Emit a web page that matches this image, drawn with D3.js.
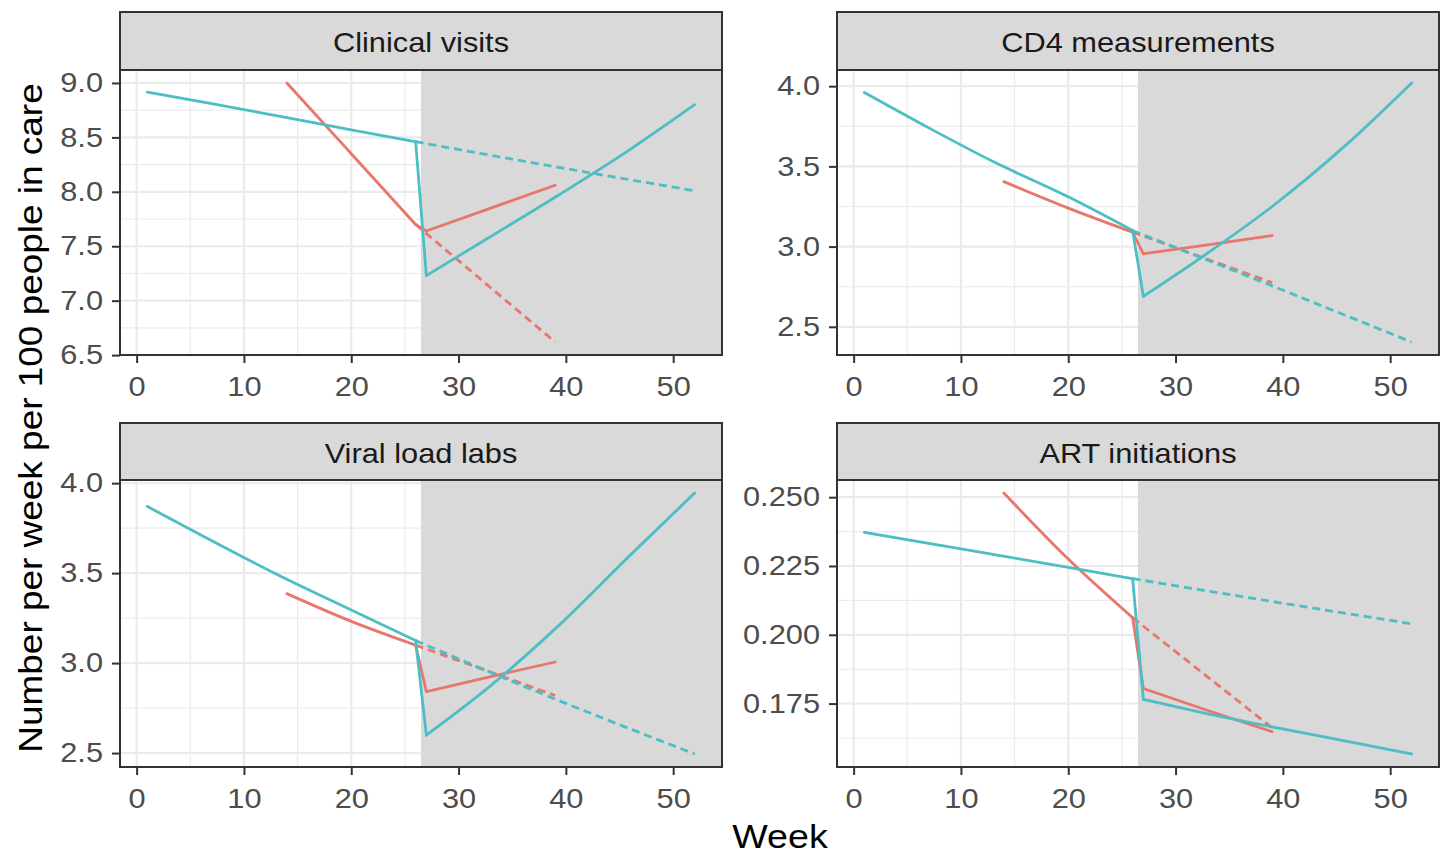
<!DOCTYPE html>
<html>
<head>
<meta charset="utf-8">
<script src="https://cdn.jsdelivr.net/npm/d3@7"></script>
<style>
  body { margin: 0; background: #fff; }
  svg { display: block; font-family: "Liberation Sans", Arial, sans-serif; }
</style>
</head>
<body>
<svg id="chart" width="1440" height="854"></svg>
<script>
// facet titles, in reading order
const panelTitles = ["Clinical visits", "CD4 measurements", "Viral load labs", "ART initiations"];

// teal group: weeks 1-52, solid = fitted, dashed = counterfactual
const tealWeeks = [1, 7, 13, 20, 26, 27, 33, 39, 46, 52];
const tealSolid = [
    [8.915, 8.81, 8.70, 8.57, 8.46, 7.23, 7.59, 7.95, 8.39, 8.80],
    [3.96, 3.74, 3.53, 3.31, 3.10, 2.69, 2.96, 3.25, 3.64, 4.02],
    [3.87, 3.68, 3.495, 3.295, 3.125, 2.60, 2.875, 3.19, 3.60, 3.945],
    [0.2372, 0.2332, 0.2292, 0.2245, 0.2204, 0.1765, 0.1713, 0.1665, 0.1613, 0.1567]
];
const tealDashWeeks = [26, 39, 52];
const tealDashed = [
    [8.46, 8.23, 8.01],
    [3.10, 2.755, 2.405],
    [3.125, 2.80, 2.495],
    [0.2204, 0.2121, 0.204]
];

// red group: weeks 14-39
const redWeeks = [14, 20, 26, 27, 33, 39];
const redSolid = [
    [9.00, 8.35, 7.70, 7.64, 7.85, 8.06],
    [3.405, 3.24, 3.09, 2.955, 3.01, 3.069],
    [3.386, 3.232, 3.10, 2.842, 2.925, 3.006],
    [0.2515, 0.2275, 0.2062, 0.1805, 0.1725, 0.1648]
];
const redDashWeeks = [26, 39];
const redDashed = [
    [7.70, 6.62],
    [3.09, 2.775],
    [3.10, 2.82],
    [0.2062, 0.1662]
];

// axis breaks
const xTicks = [0, 10, 20, 30, 40, 50];
const yTicks = [
    [6.5, 7.0, 7.5, 8.0, 8.5, 9.0],
    [2.5, 3.0, 3.5, 4.0],
    [2.5, 3.0, 3.5, 4.0],
    [0.175, 0.200, 0.225, 0.250]
];
const yTickFormats = [".1f", ".1f", ".1f", ".3f"];
const interventionStart = 26.5;

// layout
const colX = [[120, 722], [837, 1439]];
const rowY = [[12, 70, 355], [423, 480, 767]]; // strip top, panel top, panel bottom
const SX = 1.14; // horizontal text widening to match the original font
const red = "#E8766B", teal = "#4CBEC4";

const svg = d3.select("#chart");

function minorBreaks(major, domain) {
    const step = major[1] - major[0];
    const mids = [];
    for (let k = -1; k < major.length; k++) mids.push(major[0] + step * (k + 0.5));
    return mids.filter(v => v >= domain[0] && v <= domain[1]);
}

panelTitles.forEach((title, i) => {
    const [x0, x1] = colX[i % 2];
    const [s0, y0, y1] = rowY[Math.floor(i / 2)];
    const g = svg.append("g");

    const xr = d3.extent([...tealWeeks, ...redWeeks]);
    const xp = (xr[1] - xr[0]) * 0.05;
    const x = d3.scaleLinear().domain([xr[0] - xp, xr[1] + xp]).range([x0, x1]);

    const yr = d3.extent([...tealSolid[i], ...tealDashed[i], ...redSolid[i], ...redDashed[i]]);
    const yp = (yr[1] - yr[0]) * 0.05;
    const y = d3.scaleLinear().domain([yr[0] - yp, yr[1] + yp]).range([y1, y0]);

    g.append("rect").attr("x", x0).attr("y", y0)
        .attr("width", x1 - x0).attr("height", y1 - y0).attr("fill", "#fff");

    // grid
    minorBreaks(xTicks, x.domain()).forEach(v => {
        g.append("line").attr("x1", x(v)).attr("x2", x(v)).attr("y1", y0).attr("y2", y1)
            .attr("stroke", "#EBEBEB").attr("stroke-width", 1.1);
    });
    minorBreaks(yTicks[i], y.domain()).forEach(v => {
        g.append("line").attr("x1", x0).attr("x2", x1).attr("y1", y(v)).attr("y2", y(v))
            .attr("stroke", "#EBEBEB").attr("stroke-width", 1.1);
    });
    xTicks.forEach(v => {
        g.append("line").attr("x1", x(v)).attr("x2", x(v)).attr("y1", y0).attr("y2", y1)
            .attr("stroke", "#EBEBEB").attr("stroke-width", 2.2);
    });
    yTicks[i].forEach(v => {
        g.append("line").attr("x1", x0).attr("x2", x1).attr("y1", y(v)).attr("y2", y(v))
            .attr("stroke", "#EBEBEB").attr("stroke-width", 2.2);
    });

    // post-intervention shading
    g.append("rect")
        .attr("x", x(interventionStart)).attr("y", y0)
        .attr("width", x1 - x(interventionStart)).attr("height", y1 - y0)
        .attr("fill", "#D9D9D9");

    const smooth = d3.line().x(d => x(d[0])).y(d => y(d[1])).curve(d3.curveMonotoneX);
    const straight = d3.line().x(d => x(d[0])).y(d => y(d[1]));

    // solid series: smooth pre and post pieces, straight drop between them
    function drawSolid(weeks, vals, color) {
        const pts = weeks.map((w, k) => [w, vals[k]]);
        const pre = pts.filter(p => p[0] < interventionStart);
        const post = pts.filter(p => p[0] > interventionStart);
        [pre, post].forEach(seg => {
            g.append("path").datum(seg)
                .attr("fill", "none").attr("stroke", color).attr("stroke-width", 2.8)
                .attr("stroke-linecap", "round").attr("d", smooth);
        });
        g.append("path").datum([pre[pre.length - 1], post[0]])
            .attr("fill", "none").attr("stroke", color).attr("stroke-width", 2.8)
            .attr("stroke-linecap", "round").attr("d", straight);
    }
    function drawDashed(weeks, vals, color) {
        g.append("path").datum(weeks.map((w, k) => [w, vals[k]]))
            .attr("fill", "none").attr("stroke", color).attr("stroke-width", 2.8)
            .attr("stroke-dasharray", "8,5").attr("d", smooth);
    }

    drawSolid(redWeeks, redSolid[i], red);
    drawDashed(redDashWeeks, redDashed[i], red);
    drawSolid(tealWeeks, tealSolid[i], teal);
    drawDashed(tealDashWeeks, tealDashed[i], teal);

    // panel border
    g.append("rect").attr("x", x0).attr("y", y0)
        .attr("width", x1 - x0).attr("height", y1 - y0)
        .attr("fill", "none").attr("stroke", "#333").attr("stroke-width", 2);

    // strip
    g.append("rect").attr("x", x0).attr("y", s0)
        .attr("width", x1 - x0).attr("height", y0 - s0)
        .attr("fill", "#D9D9D9").attr("stroke", "#333").attr("stroke-width", 2);
    g.append("text")
        .attr("transform", `translate(${(x0 + x1) / 2},${s0 + 40}) scale(${SX},1)`)
        .attr("text-anchor", "middle")
        .attr("font-size", 27)
        .attr("fill", "#1A1A1A")
        .text(title);

    // y axis
    const ya = g.append("g")
        .attr("transform", `translate(${x0},0)`)
        .call(d3.axisLeft(y).tickValues(yTicks[i]).tickFormat(d3.format(yTickFormats[i])).tickSize(8));
    ya.select(".domain").remove();
    ya.selectAll(".tick line").attr("stroke", "#333").attr("stroke-width", 2);
    ya.selectAll(".tick text")
        .attr("x", -17 / SX)
        .attr("transform", `scale(${SX},1)`)
        .attr("font-size", 27)
        .attr("font-family", null)
        .attr("fill", "#4D4D4D");

    // x axis
    const xa = g.append("g")
        .attr("transform", `translate(0,${y1})`)
        .call(d3.axisBottom(x).tickValues(xTicks).tickSize(8));
    xa.select(".domain").remove();
    xa.selectAll(".tick line").attr("stroke", "#333").attr("stroke-width", 2);
    xa.selectAll(".tick text")
        .attr("y", 41)
        .attr("dy", 0)
        .attr("transform", `scale(${SX},1)`)
        .attr("font-size", 27)
        .attr("font-family", null)
        .attr("fill", "#4D4D4D");
});

// axis titles
svg.append("text")
    .attr("transform", `translate(780,848) scale(${SX},1)`)
    .attr("text-anchor", "middle")
    .attr("font-size", 33)
    .attr("fill", "#000")
    .text("Week");

svg.append("text")
    .attr("transform", `translate(42,418) rotate(-90) scale(1.12,1)`)
    .attr("text-anchor", "middle")
    .attr("font-size", 33)
    .attr("fill", "#000")
    .text("Number per week per 100 people in care");
</script>
</body>
</html>
